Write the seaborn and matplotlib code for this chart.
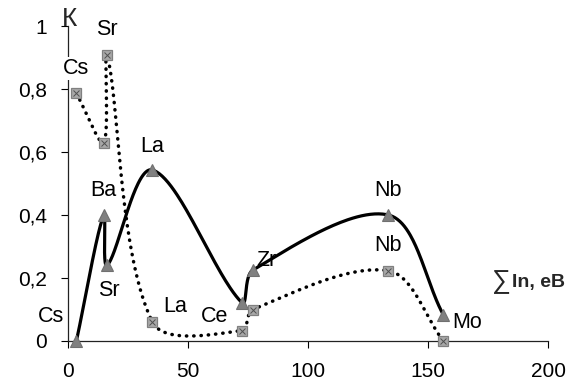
import numpy as np
import pandas as pd
import matplotlib
matplotlib.use("Agg")
import matplotlib.pyplot as plt
import seaborn as sns

# Ionisation-potential sums and coefficients for two series
elements = ["Cs", "Ba", "Sr", "La", "Ce", "Zr", "Nb", "Mo"]
sum_ip = [3.5, 14.9, 16.3, 35.1, 72.4, 77.0, 133.5, 156.4]
k_solid = [0.0, 0.40, 0.24, 0.543, 0.122, 0.225, 0.40, 0.083]
k_dotted = [0.786, 0.63, 0.908, 0.061, 0.033, 0.10, 0.223, 0.0]

x_ticks = [0, 50, 100, 150, 200]
y_ticks = [0, 0.2, 0.4, 0.6, 0.8, 1.0]
y_tick_labels = ["0", "0,2", "0,4", "0,6", "0,8", "1"]

# which points carry a label, with label offsets in pixels
solid_labels = {"Cs": (-25, 24), "Ba": (0, 25), "Sr": (2, -25), "La": (0, 23),
                "Ce": (-27, -14), "Zr": (14, 10), "Nb": (0, 25), "Mo": (24, -8)}
dotted_labels = {"Cs": (0, 25), "Sr": (0, 25), "La": (23, 15), "Nb": (0, 25)}

sns.set_theme(style="ticks")
plt.rcParams["font.family"] = ["Liberation Sans", "DejaVu Sans"]

DPI = 100
fig = plt.figure(figsize=(5.74, 3.82), dpi=DPI)
ax = fig.add_axes([68 / 574, 41 / 382, 480 / 574, 315 / 382])
ax.set_xlim(0, 200)
ax.set_ylim(0, 1)


def smooth_curve(xs, ys, ax, n=60):
    """Piecewise cubic Bezier through the points, computed in display space."""
    P = ax.transData.transform(np.column_stack([xs, ys]))
    out = []
    m = len(P)
    for i in range(m - 1):
        p0 = P[i - 1] if i > 0 else P[i]
        p1, p2 = P[i], P[i + 1]
        p3 = P[i + 2] if i + 2 < m else P[i + 1]
        L1 = np.linalg.norm(p1 - p0)
        L2 = np.linalg.norm(p2 - p1)
        L3 = np.linalg.norm(p3 - p2)
        c1 = p1 + (p2 - p0) * (L2 / (L1 + L2)) / 3.0
        c2 = p2 - (p3 - p1) * (L2 / (L2 + L3)) / 3.0
        t = np.linspace(0, 1, n)[:, None]
        seg = ((1 - t) ** 3) * p1 + 3 * ((1 - t) ** 2) * t * c1 \
            + 3 * (1 - t) * t ** 2 * c2 + t ** 3 * p2
        out.append(seg if i == 0 else seg[1:])
    pts = ax.transData.inverted().transform(np.vstack(out))
    return pts[:, 0], pts[:, 1]


sx, sy = smooth_curve(sum_ip, k_solid, ax)
dx, dy = smooth_curve(sum_ip, k_dotted, ax)

curve_solid = pd.DataFrame({"x": sx, "y": sy})
curve_dotted = pd.DataFrame({"x": dx, "y": dy})

sns.lineplot(data=curve_solid, x="x", y="y", sort=False, estimator=None,
             color="black", lw=2.3, ax=ax, zorder=4, clip_on=False)
sns.lineplot(data=curve_dotted, x="x", y="y", sort=False, estimator=None,
             color="black", lw=2.5, ax=ax, zorder=4, clip_on=False,
             linestyle=(0, (0.1, 2.0)), dash_capstyle="round")

pts = pd.DataFrame({"el": elements, "x": sum_ip, "ks": k_solid, "kd": k_dotted})

ax.plot(pts["x"], pts["ks"], linestyle="none", marker="^", markersize=9,
        markerfacecolor="#808080", markeredgecolor="#707070",
        markeredgewidth=0.8, zorder=5, clip_on=False)
ax.plot(pts["x"], pts["kd"], linestyle="none", marker="s", markersize=7.5,
        markerfacecolor="#a8a8a8", markeredgecolor="#808080",
        markeredgewidth=0.9, zorder=5, clip_on=False)
ax.plot(pts["x"], pts["kd"], linestyle="none", marker="x", markersize=5,
        markeredgecolor="#505050", markeredgewidth=0.7, zorder=6, clip_on=False)

lab_font = dict(fontsize=15.5, color="black", ha="center", va="center")
for el, x, y in zip(elements, sum_ip, k_solid):
    if el in solid_labels:
        ax.annotate(el, (x, y), xytext=solid_labels[el], textcoords="offset pixels",
                    zorder=3, annotation_clip=False,
                    bbox=dict(boxstyle="square,pad=0.05", fc="white", ec="none"),
                    **lab_font)
for el, x, y in zip(elements, sum_ip, k_dotted):
    if el in dotted_labels:
        ax.annotate(el, (x, y), xytext=dotted_labels[el], textcoords="offset pixels",
                    zorder=3, annotation_clip=False,
                    bbox=dict(boxstyle="square,pad=0.05", fc="white", ec="none"),
                    **lab_font)

ax.set_xticks(x_ticks)
ax.set_xticklabels([str(v) for v in x_ticks])
ax.set_yticks(y_ticks)
ax.set_yticklabels(y_tick_labels)
ax.tick_params(axis="both", labelsize=15, colors="black", direction="out",
               width=0.8, pad=10)
ax.tick_params(axis="y", length=5)
ax.tick_params(axis="x", length=5)
for side in ["left", "bottom"]:
    ax.spines[side].set_color("#222222")
    ax.spines[side].set_linewidth(0.9)
sns.despine(ax=ax)
ax.set_xlabel("")
ax.set_ylabel("")

# axis titles
ax.annotate("К", (0, 1), xycoords="axes fraction", xytext=(1, 7),
            textcoords="offset pixels", ha="center", va="center", fontsize=19,
            annotation_clip=False)
fig.text(565 / 574, 1 - 283 / 382, "In, eB", ha="right", va="center",
         fontsize=14, fontweight="bold")
fig.text(511 / 574, 1 - 282 / 382, "∑", ha="right", va="center", fontsize=19)

fig.savefig("out.png", dpi=DPI, facecolor="white")
